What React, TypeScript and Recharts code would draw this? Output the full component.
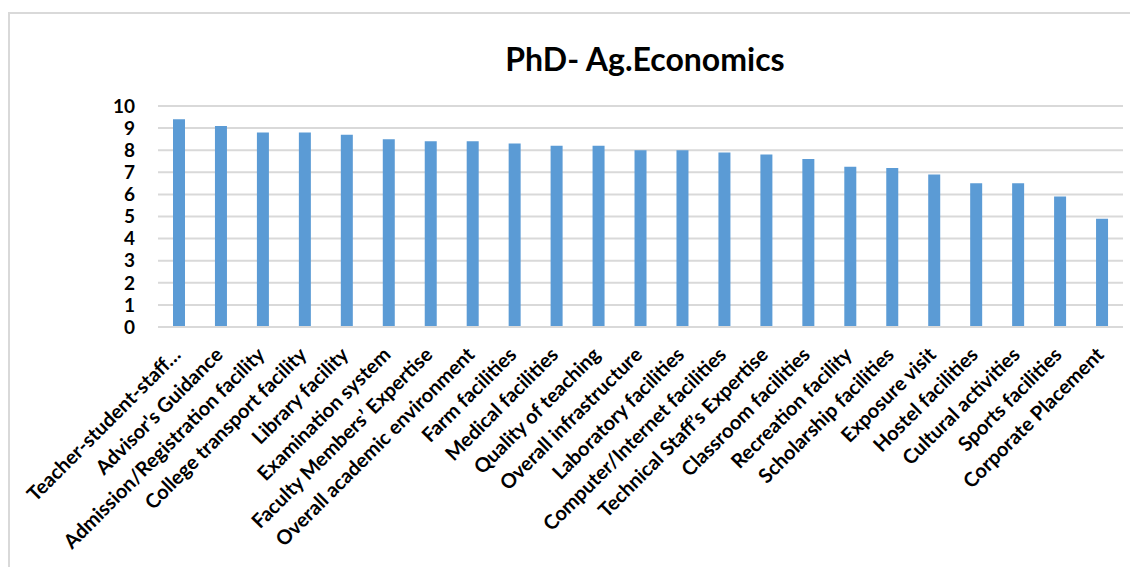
import { BarChart, Bar, XAxis, YAxis, CartesianGrid } from "recharts";

const categories = [
  "Teacher-student-staff…",
  "Advisor's Guidance",
  "Admission/Registration facility",
  "College transport facility",
  "Library facility",
  "Examination system",
  "Faculty Members’ Expertise",
  "Overall academic environment",
  "Farm facilities",
  "Medical facilities",
  "Quality of teaching",
  "Overall infrastructure",
  "Laboratory facilities",
  "Computer/Internet facilities",
  "Technical Staff’s Expertise",
  "Classroom facilities",
  "Recreation facility",
  "Scholarship facilities",
  "Exposure visit",
  "Hostel facilities",
  "Cultural activities",
  "Sports facilities",
  "Corporate Placement",
];

const scores = [
  9.4, 9.1, 8.8, 8.8, 8.7, 8.5, 8.4, 8.4, 8.3, 8.2, 8.2, 8.0, 8.0, 7.9, 7.8,
  7.6, 7.25, 7.2, 6.9, 6.5, 6.5, 5.9, 4.9,
];

const yTicks = [0, 1, 2, 3, 4, 5, 6, 7, 8, 9, 10];

const data = categories.map((name, i) => ({ name, value: scores[i] }));

const FONT = "Lato, 'Open Sans', sans-serif";

// category labels rotated 45deg, ending just under their bar
const AngledTick = (props: any) => {
  const { x, y, payload } = props;
  return (
    <g transform={`translate(${x + 3},${y + 21})`}>
      <text
        x={0}
        y={0}
        textAnchor="end"
        transform="rotate(-45)"
        fontFamily={FONT}
        fontWeight={700}
        fontSize={20}
        fill="#000"
      >
        {payload.value}
      </text>
    </g>
  );
};

export default function App() {
  return (
    <div
      style={{
        marginTop: 4,
        width: 1128,
        height: 553,
        borderTop: "2px solid #d9d9d9",
        borderLeft: "2px solid #d9d9d9",
        background: "#fff",
        position: "relative",
      }}
    >
      <BarChart
        width={1128}
        height={553}
        data={data}
        margin={{ top: 92, right: 15, bottom: 10, left: 88 }}
        barCategoryGap={0}
      >
        <text
          x={635}
          y={57}
          textAnchor="middle"
          fontFamily={FONT}
          fontWeight={700}
          fontSize={32}
          fill="#000"
        >
          PhD- Ag.Economics
        </text>
        <CartesianGrid vertical={false} stroke="#d9d9d9" strokeWidth={2} />
        <XAxis
          dataKey="name"
          interval={0}
          height={230}
          tick={<AngledTick />}
          tickLine={false}
          axisLine={{ stroke: "#d9d9d9", strokeWidth: 2 }}
        />
        <YAxis
          domain={[0, 10]}
          ticks={yTicks}
          interval={0}
          width={60}
          tickLine={false}
          axisLine={false}
          tickMargin={17}
          tick={{
            fontFamily: FONT,
            fontWeight: 700,
            fontSize: 19,
            fill: "#000",
          }}
        />
        <Bar
          dataKey="value"
          fill="#5b9bd5"
          barSize={12}
          isAnimationActive={false}
        />
      </BarChart>
    </div>
  );
}
